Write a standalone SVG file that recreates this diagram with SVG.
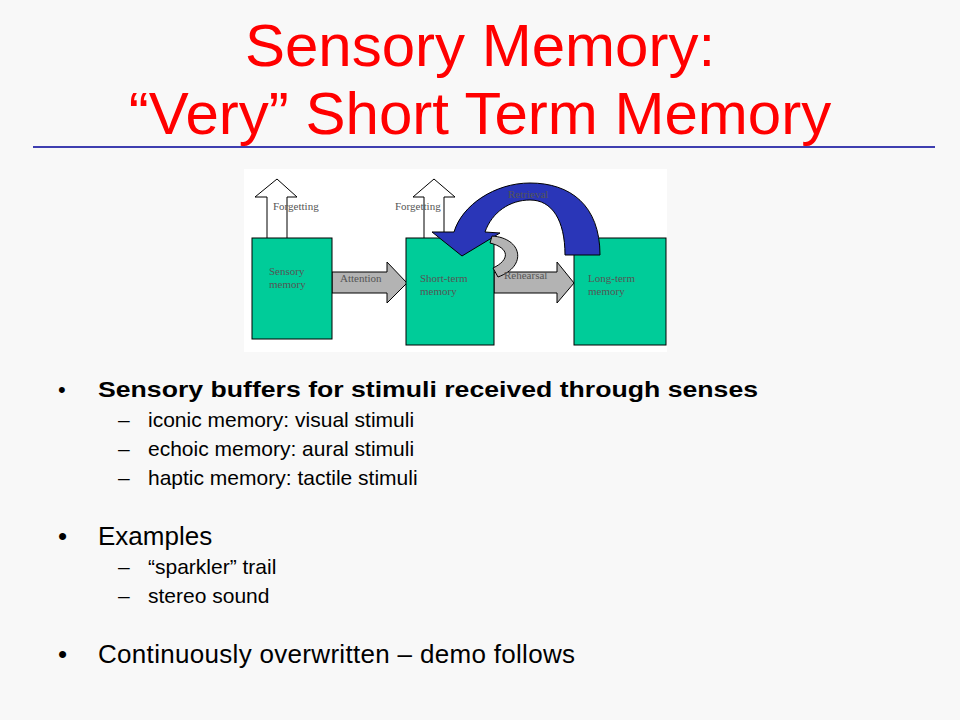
<svg xmlns="http://www.w3.org/2000/svg" width="960" height="720" viewBox="0 0 960 720">
<style>
.t{font-family:"Liberation Sans",Arial,sans-serif;fill:#000}
.lb{font-family:"Liberation Serif","Times New Roman",serif;font-size:11px;fill:#555}
.box{fill:#00cc99;stroke:#000;stroke-width:1}
.up{fill:#fff;stroke:#000;stroke-width:1}
.gr{fill:#b3b3b3;stroke:#000;stroke-width:1}
</style>
<rect width="960" height="720" fill="#f8f8f8"/>
<g id="title" font-family="'Liberation Sans',Arial,sans-serif" font-size="60" fill="#ff0000" text-anchor="middle">
<text x="480" y="66">Sensory Memory:</text>
<text x="480" y="134">“Very” Short Term Memory</text>
</g>
<line x1="33" y1="147" x2="935" y2="147" stroke="#000099" stroke-width="1.5"/>
<rect x="244" y="169" width="423" height="183" fill="#fff"/>
<g id="connectors">
<path class="up" d="M267,244 V197 H255 L277,179 L297,197 H287 V244 Z"/>
<path class="up" d="M424,244 V197 H413 L434,179 L455,197 H444 V244 Z"/>
<path class="gr" d="M332,272 H387 V262 L407,283 L387,303 V293 H332 Z"/>
<path class="gr" d="M494,272 H557 V262 L574,283 L557,303 V293 H494 Z"/>
</g>
<g id="sensory"><rect class="box" x="252" y="238" width="80" height="101"/>
<text class="lb" x="269" y="275">Sensory</text><text class="lb" x="269" y="288">memory</text></g>
<g id="stm"><rect class="box" x="406" y="238" width="88" height="107"/>
<text class="lb" x="420" y="282">Short-term</text><text class="lb" x="420" y="295">memory</text></g>
<g id="ltm"><rect class="box" x="574" y="238" width="92" height="107"/>
<text class="lb" x="588" y="282">Long-term</text><text class="lb" x="588" y="295">memory</text></g>
<g id="arcs">
<path fill="#2a36b8" stroke="#000" stroke-width="1" d="M600,255 C600,205 570,183 530,183 C495,183 462,205 454,232 L432,232 L462,256 L500,233 L485,232 C492,212 510,200 530,200 C552,200 565,220 565,255 Z"/>
<path class="gr" d="M492,236 C522,238 528,266 498,277 L493,268 C510,260 510,248 490,243 Z"/>
</g>
<g id="labels">
<text class="lb" x="273" y="210">Forgetting</text>
<text class="lb" x="395" y="210">Forgetting</text>
<text class="lb" x="508" y="198">Retrieval</text>
<text class="lb" x="340" y="282">Attention</text>
<text class="lb" x="504" y="279">Rehearsal</text>
</g>
<g id="bullets">
<text class="t" x="58" y="397" font-size="22">•</text>
<text class="t" x="98" y="397" font-size="22" font-weight="bold" textLength="660" lengthAdjust="spacingAndGlyphs">Sensory buffers for stimuli received through senses</text>
<text class="t" x="118" y="427" font-size="21">–</text><text class="t" x="148" y="427" font-size="21">iconic memory: visual stimuli</text>
<text class="t" x="118" y="456" font-size="21">–</text><text class="t" x="148" y="456" font-size="21">echoic memory: aural stimuli</text>
<text class="t" x="118" y="485" font-size="21">–</text><text class="t" x="148" y="485" font-size="21">haptic memory: tactile stimuli</text>
<text class="t" x="58" y="545" font-size="26">•</text>
<text class="t" x="98" y="545" font-size="26">Examples</text>
<text class="t" x="118" y="574" font-size="21">–</text><text class="t" x="148" y="574" font-size="21">“sparkler” trail</text>
<text class="t" x="118" y="603" font-size="21">–</text><text class="t" x="148" y="603" font-size="21">stereo sound</text>
<text class="t" x="58" y="663" font-size="26">•</text>
<text class="t" x="98" y="663" font-size="26" textLength="477">Continuously overwritten – demo follows</text>
</g>
</svg>
